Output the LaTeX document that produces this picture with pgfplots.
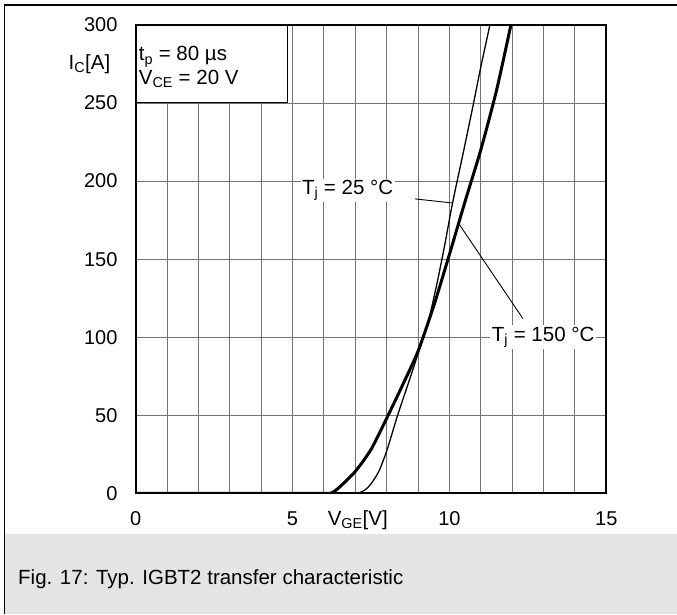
\documentclass[border=0pt]{standalone}
\usepackage{fontspec}
\setmainfont{Liberation Sans}
\usepackage{pgfplots}
\pgfplotsset{compat=1.18}
\definecolor{band}{RGB}{228,228,228}
\newcommand{\fs}{\fontsize{20.5}{23}\selectfont}

\begin{document}
\begin{tikzpicture}[x=1pt,y=1pt]
\useasboundingbox (0pt,0pt) rectangle (677pt,614pt);
\fill[band] (4.5pt,0pt) rectangle (677pt,80pt);
\draw[line width=1.5pt] (4.5pt,0pt) -- (4.5pt,609pt) -- (677pt,609pt);
\node[anchor=west, inner sep=0, font=\fontsize{20.5}{24}\selectfont] at (18pt,35pt) {Fig. 17: Typ. IGBT2 transfer characteristic};
\begin{axis}[
    at={(135.6pt,120.7pt)}, anchor=south west,
    scale only axis, width=470.7pt, height=468.3pt,
    xmin=0, xmax=15, ymin=0, ymax=300,
    xtick={0,5,10,15},
    minor xtick={1,2,3,4,6,7,8,9,11,12,13,14},
    ytick={0,50,...,300},
    xmajorgrids, xminorgrids, ymajorgrids,
    grid style={black!55, line width=0.9pt},
    minor grid style={black!55, line width=0.9pt},
    major tick length=0pt, minor tick length=0pt,
    axis line style={line width=1.8pt},
    tick label style={font=\fontsize{20}{23}\selectfont},
    /pgf/number format/assume math mode=true,
    xticklabel style={anchor=north, inner sep=0pt, yshift=-18pt},
    yticklabel style={anchor=east, inner sep=0pt, xshift=-18pt},
    clip mode=individual,
]
% Tj = 25 C
\addplot[black, line width=1.3pt, smooth, tension=0.4, line join=round] coordinates {
    (0,0) (6.5,0) (7.05,0) (7.3,2) (7.5,6) (7.75,14) (8.0,27) (8.35,50)
    (8.7,71) (9.06,93) (9.35,112) (9.6,134) (9.85,159) (10.1,186)
    (10.45,219) (10.76,249) (11.0,273) (11.29,300)
};
% Tj = 150 C
\addplot[black, line width=3pt, smooth, tension=0.4, line join=round] coordinates {
    (0,0) (5.6,0) (6.2,0) (6.5,4) (7.0,14) (7.5,28) (8.0,48) (8.5,69)
    (9.0,91) (9.5,120) (10.0,153) (10.5,187) (11.0,220) (11.5,258) (11.96,300)
};

\draw[fill=white, line width=1.2pt] (axis cs:0,250.5) rectangle (axis cs:4.85,300);
\draw[line width=1.8pt] (axis cs:0,250) -- (axis cs:0,300) -- (axis cs:4.85,300);
\node[anchor=base west, inner sep=0, font=\fs] at (axis cs:0.1,277) {t\textsubscript{p} = 80 µs};
\node[anchor=base west, inner sep=0, font=\fs] at (axis cs:0.1,262) {V\textsubscript{CE} = 20 V};

\node[anchor=east, inner sep=0, font=\fs] at (axis cs:-0.8,275) {I\textsubscript{C}[A]};
\node[anchor=base, inner sep=0, font=\fs] at (axis cs:7.08,0) [yshift=-32pt] {V\textsubscript{GE}[V]};

\draw[line width=0.9pt] (axis cs:8.9,188.6) -- (axis cs:10.09,186);
\node[anchor=west, fill=white, inner sep=1.5pt, font=\fs] at (axis cs:5.25,194) {T\textsubscript{j} = 25 °C};
\draw[line width=0.9pt] (axis cs:10.29,173) -- (axis cs:12.34,112);
\node[anchor=west, fill=white, inner sep=1.5pt, font=\fs] at (axis cs:11.3,100) {T\textsubscript{j} = 150 °C};
\end{axis}
\end{tikzpicture}
\end{document}
